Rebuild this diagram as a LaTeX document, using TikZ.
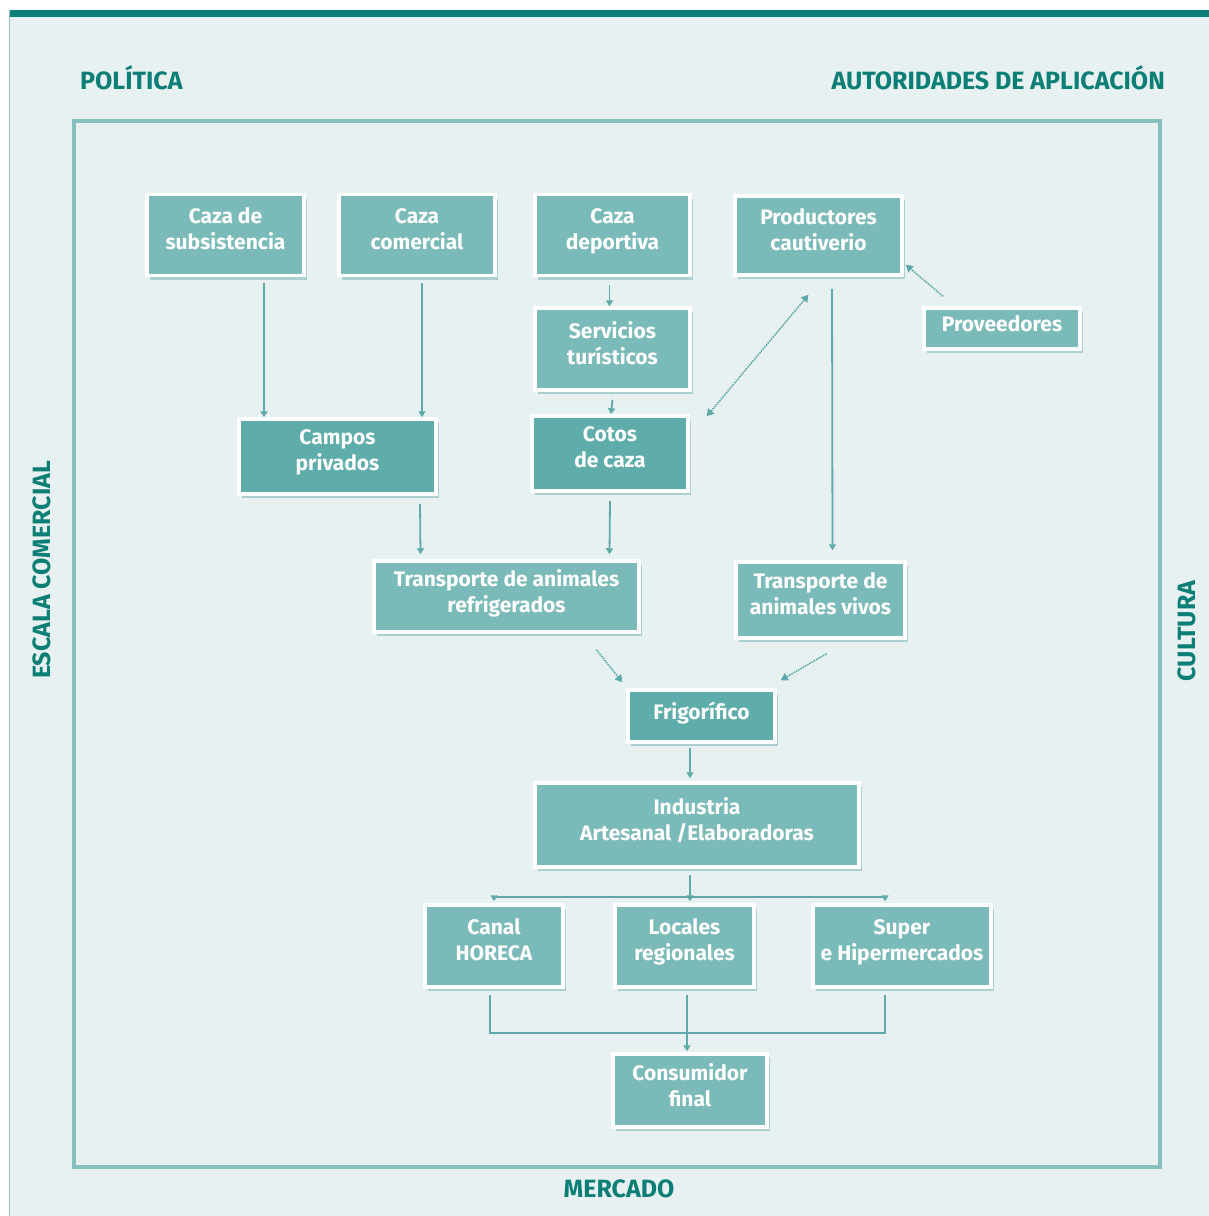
\documentclass[tikz,border=0pt]{standalone}
\usepackage{fontspec}
\setmainfont{Fira Sans}
\usepackage{tikz}
\usetikzlibrary{positioning}
\usetikzlibrary{arrows.meta}
\usetikzlibrary{shadows}

\definecolor{fondo}{HTML}{E8F1F2}
\definecolor{caja}{HTML}{7ABAB8}
\definecolor{cajaosc}{HTML}{5EADAB}
\definecolor{marco}{HTML}{85C0BE}
\definecolor{linea}{HTML}{5FAAA8}
\definecolor{titulo}{HTML}{0B7F75}
\definecolor{sombra}{HTML}{9CC8C7}

\begin{document}
\begin{tikzpicture}
		[x=1pt, y=-1pt,
		caja/.style={rectangle, fill=caja, draw=white, line width=3.5pt, inner sep=0pt,
			text=white, align=center, font=\bfseries\fontsize{21}{26}\selectfont,
			execute at begin node=\strut, execute at end node=\strut, text depth=12pt,
			drop shadow={shadow xshift=3pt, shadow yshift=-4pt, fill=sombra, opacity=.8}},
		oscura/.style={caja, fill=cajaosc},
		rotulo/.style={text=titulo, font=\bfseries\fontsize{25}{28}\selectfont, inner sep=0pt},
		linea/.style={draw=linea, line width=1.8pt},
		flecha/.style={linea, -{Triangle[width=7pt,length=6pt]}},
		punteada/.style={draw=linea, line width=1.6pt, densely dotted, -{Triangle[width=8pt,length=7pt]}}]
		% fondo y marcos
		\useasboundingbox (0,0) rectangle (1209,1216);
		\fill[fondo] (9,16) rectangle (1209,1216);
		\fill[titulo] (9,10) rectangle (1209,17);
		\draw[color=sombra, line width=1pt] (9.5,10) -- (9.5,1216);
		\draw[marco, line width=4pt] (74,121) rectangle (1160,1167);
		% rotulos
		\node[rotulo, anchor=west] (pol) at (80,78) {POLÍTICA};
		\node[rotulo, anchor=east] (aut) at (1165,78) {AUTORIDADES DE APLICACIÓN};
		\node[rotulo, rotate=90] (esc) at (42,570) {ESCALA COMERCIAL};
		\node[rotulo, rotate=90] (cul) at (1187,631) {CULTURA};
		\node[rotulo] (mer) at (619,1189) {MERCADO};
		% cajas
		\node[caja, minimum width=157, minimum height=81] (subs) at (225.5,235) {Caza de\\subsistencia};
		\node[caja, minimum width=156, minimum height=81] (com) at (417,235) {Caza\\comercial};
		\node[caja, minimum width=155, minimum height=81] (dep) at (612.5,235) {Caza\\deportiva};
		\node[caja, minimum width=167, minimum height=79] (prod) at (818.5,235.5) {Productores\\cautiverio};
		\node[caja, minimum width=156, minimum height=41] (prov) at (1002,328.5) {Proveedores};
		\node[caja, minimum width=155, minimum height=82] (serv) at (612.5,349) {Servicios\\turísticos};
		\node[oscura, minimum width=197, minimum height=75] (camp) at (337.5,456.5) {Campos\\privados};
		\node[oscura, minimum width=156, minimum height=75] (cotos) at (610,453.5) {Cotos\\de caza};
		\node[caja, minimum width=265, minimum height=71] (tref) at (506.5,596.5) {Transporte de animales\\refrigerados};
		\node[caja, minimum width=169, minimum height=76] (tviv) at (820.5,600) {Transporte de\\animales vivos};
		\node[oscura, minimum width=147, minimum height=52] (frig) at (701.5,716) {Frigorífico};
		\node[caja, minimum width=324, minimum height=84] (ind) at (697,825) {Industria\\Artesanal /Elaboradoras};
		\node[caja, minimum width=138, minimum height=82] (hor) at (494,946) {Canal\\HORECA};
		\node[caja, minimum width=139, minimum height=82] (loc) at (684.5,946) {Locales\\regionales};
		\node[caja, minimum width=178, minimum height=82] (sup) at (902,946) {Super\\e Hipermercados};
		\node[caja, minimum width=154, minimum height=73] (cons) at (690,1090.5) {Consumidor\\final};
		% conexiones
		\draw[flecha] ([xshift=38.5pt, yshift=-6pt]subs.south) -- ([xshift=38.5pt]subs.south |- camp.north);
		\draw[flecha] ([xshift=5pt, yshift=-6pt]com.south) -- ([xshift=5pt]com.south |- camp.north);
		\draw[flecha] ([xshift=-3pt, yshift=-8pt]dep.south) -- ([xshift=-3pt]serv.north);
		\draw[flecha] ([yshift=-8pt]serv.south) -- ([xshift=1pt]cotos.north);
		\draw[punteada, {Triangle[width=8pt,length=7pt]}-{Triangle[width=8pt,length=7pt]}]
			([xshift=17pt, yshift=-2pt]cotos.north east) -- ([xshift=-10pt, yshift=-18pt]prod.south);
		\draw[punteada] ([xshift=-59pt, yshift=10pt]prov.north) -- ([xshift=2pt, yshift=12pt]prod.south east);
		\draw[flecha] ([xshift=13.5pt, yshift=-12pt]prod.south) -- ([xshift=12pt, yshift=10pt]tviv.north);
		\draw[flecha] ([xshift=82.5pt, yshift=-8pt]camp.south) -- ([xshift=-86pt, yshift=5pt]tref.north);
		\draw[flecha] ([yshift=-8pt]cotos.south) -- ([xshift=103pt, yshift=5pt]tref.north);
		\draw[punteada] ([xshift=90pt, yshift=-16pt]tref.south) -- ([xshift=-4pt, yshift=6pt]frig.north west);
		\draw[punteada] ([xshift=6pt, yshift=-14pt]tviv.south) -- ([xshift=4pt, yshift=8pt]frig.north east);
		\draw[flecha] ([xshift=-11.5pt, yshift=-4pt]frig.south) -- ([xshift=-7pt, yshift=3pt]ind.north);
		\coordinate (rama) at ([xshift=-7pt, yshift=-28pt]ind.south);
		\coordinate (ramader) at ([xshift=-17pt]rama -| sup.north);
		\draw[linea] ([xshift=-7pt, yshift=-6pt]ind.south) -- (rama);
		\draw[linea] (rama -| hor.north) -- (ramader);
		\draw[flecha] (rama -| hor.north) -- ([yshift=2pt]hor.north);
		\draw[flecha] (rama) -- ([xshift=5.5pt, yshift=2pt]loc.north);
		\draw[flecha] (ramader) -- ([xshift=-17pt, yshift=2pt]sup.north);
		\draw[linea] ([xshift=-4pt, yshift=-6pt]hor.south) |- ([xshift=-17pt, yshift=-44pt]sup.south) -- ([xshift=-17pt, yshift=-6pt]sup.south);
		\draw[flecha] ([xshift=2.5pt, yshift=-6pt]loc.south) -- ([xshift=-3pt, yshift=1pt]cons.north);
	\end{tikzpicture}
\end{document}
